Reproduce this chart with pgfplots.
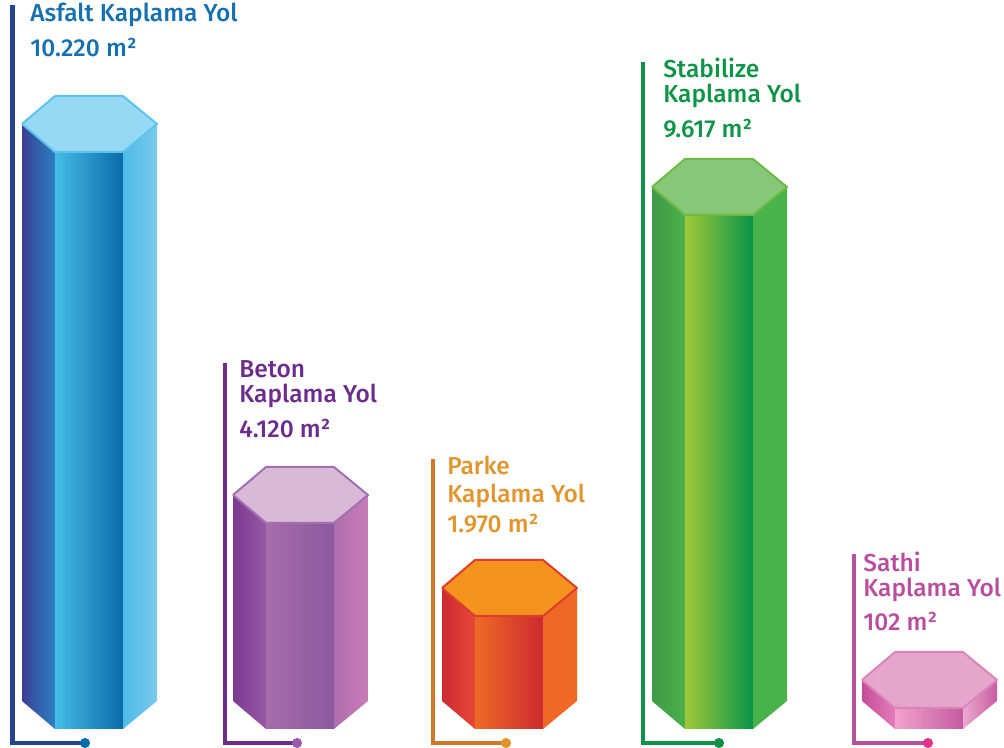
\documentclass[border=0pt]{standalone}
\usepackage{pgfplots}
\pgfplotsset{compat=1.18}
\usepackage{fontspec}
\setmainfont{Fira Sans}[BoldFont=* Medium]

% colours: L = left face, M = middle face, R = right face, T = top, S = top edge
\definecolor{AsLa}{HTML}{3B3F94}\definecolor{AsLb}{HTML}{2A80C2}
\definecolor{AsMa}{HTML}{45BDE8}\definecolor{AsMb}{HTML}{0A6AA8}
\definecolor{AsRa}{HTML}{4DBAE6}\definecolor{AsRb}{HTML}{7BCAEB}
\definecolor{AsT}{HTML}{96D9F4}\definecolor{AsS}{HTML}{5EC3EC}
\definecolor{AsTx}{HTML}{1670B0}\definecolor{AsLn}{HTML}{25468F}\definecolor{AsDt}{HTML}{0A6AAB}

\definecolor{BeLa}{HTML}{7D3A93}\definecolor{BeLb}{HTML}{9658A2}
\definecolor{BeMa}{HTML}{A66CAB}\definecolor{BeMb}{HTML}{8A5A9F}
\definecolor{BeRa}{HTML}{AE6EAE}\definecolor{BeRb}{HTML}{C87CB6}
\definecolor{BeT}{HTML}{DAB8D8}\definecolor{BeS}{HTML}{A070B0}
\definecolor{BeTx}{HTML}{6C2C8C}\definecolor{BeLn}{HTML}{6A2D8C}\definecolor{BeDt}{HTML}{9A5AA8}

\definecolor{PaLa}{HTML}{CC2A30}\definecolor{PaLb}{HTML}{E6483A}
\definecolor{PaMa}{HTML}{EF6A25}\definecolor{PaMb}{HTML}{CC2A30}
\definecolor{PaRa}{HTML}{F06726}\definecolor{PaRb}{HTML}{F06726}
\definecolor{PaT}{HTML}{F6931E}\definecolor{PaS}{HTML}{DD3E2A}
\definecolor{PaTx}{HTML}{E0952F}\definecolor{PaLn}{HTML}{D0782C}\definecolor{PaDt}{HTML}{E0952A}

\definecolor{StLa}{HTML}{3F9A48}\definecolor{StLb}{HTML}{4BB14A}
\definecolor{StMa}{HTML}{A0C93B}\definecolor{StMb}{HTML}{079447}
\definecolor{StRa}{HTML}{47B34A}\definecolor{StRb}{HTML}{47B34A}
\definecolor{StT}{HTML}{86C878}\definecolor{StS}{HTML}{6CBA45}
\definecolor{StTx}{HTML}{0D9447}\definecolor{StLn}{HTML}{0F9447}\definecolor{StDt}{HTML}{0F8F47}

\definecolor{SaLa}{HTML}{C44D99}\definecolor{SaLb}{HTML}{E47CB9}
\definecolor{SaMa}{HTML}{F2A2CD}\definecolor{SaMb}{HTML}{C45AA0}
\definecolor{SaRa}{HTML}{EBA9D0}\definecolor{SaRb}{HTML}{C85CA2}
\definecolor{SaT}{HTML}{E6A6CB}\definecolor{SaS}{HTML}{D985BB}
\definecolor{SaTx}{HTML}{B84F9C}\definecolor{SaLn}{HTML}{B8519B}\definecolor{SaDt}{HTML}{E0338A}

% hexagonal prism: #1 left x, #2 height of top centre, #3 colour prefix
\newcommand\prism[3]{%
  \pgfmathsetmacro\pa{#1}\pgfmathsetmacro\pb{#1+33}%
  \pgfmathsetmacro\pc{#1+101}\pgfmathsetmacro\pd{#1+135}%
  \pgfmathsetmacro\ct{#2+28}\pgfmathsetmacro\cb{#2-28}%
  \edef\tmp{\noexpand\addplot[draw=none,left color=#3La,right color=#3Lb]
    coordinates {(\pa,46)(\pb,18)(\pb,\cb)(\pa,#2)};}\tmp
  \edef\tmp{\noexpand\addplot[draw=none,left color=#3Ma,right color=#3Mb]
    coordinates {(\pb,18)(\pc,18)(\pc,\cb)(\pb,\cb)};}\tmp
  \edef\tmp{\noexpand\addplot[draw=none,left color=#3Ra,right color=#3Rb]
    coordinates {(\pc,18)(\pd,46)(\pd,#2)(\pc,\cb)};}\tmp
  \edef\tmp{\noexpand\addplot[fill=#3T,draw=#3S,line width=1bp,line join=round]
    coordinates {(\pa,#2)(\pb,\ct)(\pc,\ct)(\pd,#2)(\pc,\cb)(\pb,\cb)(\pa,#2)};}\tmp
}

% bracket: #1 line x, #2 top, #3 dot x, #4 prefix
\newcommand\bracket[4]{%
  \addplot[draw=#4Ln,line width=2.3bp] coordinates {(#1,#2)(#1,4)(#3,4)};
  \addplot[only marks,mark=*,mark size=2.3bp,color=#4Dt] coordinates {(#3,4)};
}

\tikzset{lbl/.style={anchor=base west,inner sep=0pt,font=\bfseries\fontsize{12.3}{13}\selectfont}}

\begin{document}
\begin{tikzpicture}
\begin{axis}[hide axis,scale only axis,width=502bp,height=373.5bp,
  xmin=0,xmax=1004,ymin=0,ymax=747,clip=false]
\path (axis cs:0,0) rectangle (axis cs:1004,747);

\bracket{12.5}{742}{85}{As}
\bracket{225}{384}{297}{Be}
\bracket{433}{288}{506}{Pa}
\bracket{643}{685}{719}{St}
\bracket{854}{193}{928}{Sa}

% top centre heights of the prisms (as drawn)
\prism{22}{623}{As}
\prism{233}{252}{Be}
\prism{442}{159}{Pa}
\prism{652}{560}{St}
\prism{862}{67}{Sa}

\node[lbl,text=AsTx] at (axis cs:30,725) {Asfalt Kaplama Yol};
\node[lbl,text=AsTx] at (axis cs:30,690) {10.220 m²};

\node[lbl,text=BeTx] at (axis cs:239,369) {Beton};
\node[lbl,text=BeTx] at (axis cs:239,344) {Kaplama Yol};
\node[lbl,text=BeTx] at (axis cs:239,309) {4.120 m²};

\node[lbl,text=PaTx] at (axis cs:447,272) {Parke};
\node[lbl,text=PaTx] at (axis cs:447,244) {Kaplama Yol};
\node[lbl,text=PaTx] at (axis cs:447,214) {1.970 m²};

\node[lbl,text=StTx] at (axis cs:663,669) {Stabilize};
\node[lbl,text=StTx] at (axis cs:663,644) {Kaplama Yol};
\node[lbl,text=StTx] at (axis cs:663,609) {9.617 m²};

\node[lbl,text=SaTx] at (axis cs:863,175) {Sathi};
\node[lbl,text=SaTx] at (axis cs:863,150) {Kaplama Yol};
\node[lbl,text=SaTx] at (axis cs:863,116) {102 m²};
\end{axis}
\end{tikzpicture}
\end{document}
